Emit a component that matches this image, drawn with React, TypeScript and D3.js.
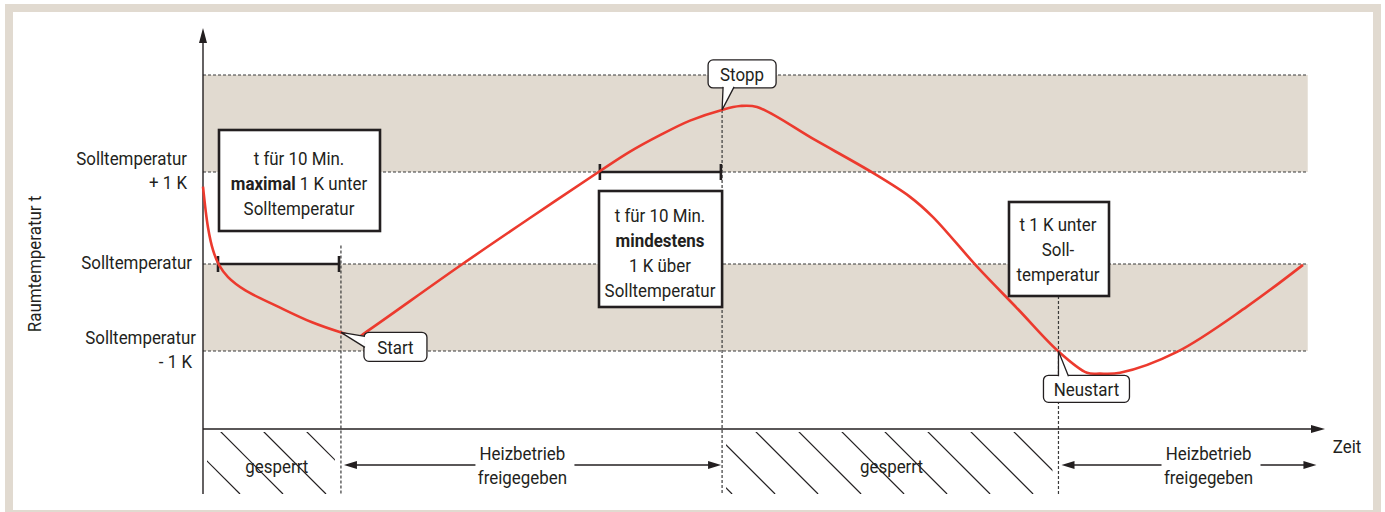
import * as d3 from "d3";
import { useRef, useEffect } from "react";

// time in minutes, deviation from Solltemperatur in K
const curveTime = [
  0, 0.41, 0.83, 1.32, 2.07, 3.47, 6.2, 9.01, 11.49, 12.81, 13.39, 21.24, 27.02,
  32.81, 35.29, 37.77, 40.25, 42.89, 44.38, 45.79, 50.58, 55.37, 58.43, 60.33,
  63.97, 67.36, 70.66, 73.06, 74.13, 75.79, 80.5, 86.28, 90.91,
];
const curveDelta = [
  0.84, 0.4, 0.15, -0.01, -0.15, -0.3, -0.49, -0.67, -0.79, -0.84, -0.79, -0.02,
  0.5, 1.01, 1.21, 1.38, 1.53, 1.64, 1.68, 1.67, 1.33, 0.99, 0.73, 0.51, -0.03,
  -0.52, -1.0, -1.25, -1.26, -1.25, -1.01, -0.49, -0.01,
];

const levelValues = [1, 0, -1];
const levelLabels = [["Solltemperatur", "+ 1 K"], ["Solltemperatur"], ["Solltemperatur", "- 1 K"]];
const bandFrom = [1, -1];
const bandTo = [2, 0];
const bandEndTime = 91.3;

const eventTimes = [11.4, 42.9, 70.7];
const eventLabels = ["Start", "Stopp", "Neustart"];

const holdFrom = [1.24, 32.8];
const holdTo = [11.24, 42.8];
const holdLevel = [0, 1];

const phaseFrom = [0, 11.4, 42.9, 70.7];
const phaseTo = [11.4, 42.9, 70.7, 92.1];
const phaseLabelTime = [6.1, 26.4, 56.9, 83.1];
const phaseLabels = [["gesperrt"], ["Heizbetrieb", "freigegeben"], ["gesperrt"], ["Heizbetrieb", "freigegeben"]];
const phaseLocked = [true, false, true, false];

const noteLines = [
  ["t für 10 Min.", "**maximal** 1 K unter", "Solltemperatur"],
  ["t für 10 Min.", "**mindestens**", "1 K über", "Solltemperatur"],
  ["t 1 K unter", "Soll-", "temperatur"],
];

const width = 1385;
const height = 512;
const ink = "#231f20";
const beige = "#e1dad0";
const red = "#ec3a2e";
const font = "Roboto, 'Liberation Sans', Arial, sans-serif";

export default function App() {
  const ref = useRef<SVGSVGElement>(null);

  useEffect(() => {
    if (!ref.current) return;
    const svg = d3.select(ref.current);
    svg.selectAll("*").remove();

    const x = d3.scaleLinear().domain([0, 100]).range([203, 1413]);
    const y = d3.scaleLinear().domain([-1, 0, 1, 2]).range([351, 264, 172, 75]);
    const axisY = 429;
    const panelBottom = 494;

    const valueAt = (t: number) => {
      const i = d3.bisectLeft(curveTime, t);
      const t0 = curveTime[i - 1];
      const t1 = curveTime[i];
      const k = (t - t0) / (t1 - t0);
      return curveDelta[i - 1] + k * (curveDelta[i] - curveDelta[i - 1]);
    };

    // condensed text: slightly narrowed like the original typeface
    const text = (
      g: d3.Selection<any, unknown, null, undefined>,
      tx: number,
      ty: number,
      str: string,
      anchor = "middle",
      size = 19,
    ) => {
      const t = g
        .append("g")
        .attr("transform", `translate(${tx},${ty}) scale(0.89,1)`)
        .append("text")
        .attr("text-anchor", anchor)
        .attr("font-family", font)
        .attr("font-size", size)
        .attr("fill", ink);
      str.split("**").forEach((part, i) => {
        if (part) t.append("tspan").attr("font-weight", i % 2 ? 700 : 400).text(part);
      });
      return t;
    };

    // frame
    svg.append("rect").attr("x", 5).attr("y", 4).attr("width", 1376).attr("height", 510).attr("fill", beige);
    svg.append("rect").attr("x", 13).attr("y", 12).attr("width", 1360).attr("height", 498).attr("fill", "#fff");

    // bands
    bandFrom.forEach((b, i) => {
      svg
        .append("rect")
        .attr("x", x(0))
        .attr("y", y(bandTo[i]))
        .attr("width", x(bandEndTime) - x(0))
        .attr("height", y(b) - y(bandTo[i]))
        .attr("fill", beige);
    });
    [2, 1, 0, -1].forEach((v) => {
      svg
        .append("line")
        .attr("x1", x(0))
        .attr("x2", x(bandEndTime))
        .attr("y1", y(v))
        .attr("y2", y(v))
        .attr("stroke", "#3a3a3a")
        .attr("stroke-width", 1.2)
        .attr("stroke-dasharray", "3,2");
    });

    // event guide lines
    const guideTop = [y(0.2), y(valueAt(eventTimes[1])), 296];
    eventTimes.forEach((t, i) => {
      svg
        .append("line")
        .attr("x1", x(t))
        .attr("x2", x(t))
        .attr("y1", guideTop[i])
        .attr("y2", panelBottom)
        .attr("stroke", "#3a3a3a")
        .attr("stroke-width", 1.2)
        .attr("stroke-dasharray", "3,2");
    });

    // phases
    const defs = svg.append("defs");
    const hatchShift = [15, 0, 31, 0];
    phaseFrom.forEach((f, i) => {
      const x0 = x(f);
      const x1 = x(phaseTo[i]);
      const cx = x(phaseLabelTime[i]);
      if (phaseLocked[i]) {
        defs
          .append("clipPath")
          .attr("id", `hatch${i}`)
          .append("rect")
          .attr("x", x0 + 4)
          .attr("y", axisY + 3)
          .attr("width", x1 - x0 - 10)
          .attr("height", panelBottom - axisY - 3);
        const hatch = svg.append("g").attr("clip-path", `url(#hatch${i})`);
        d3.range(x0 + hatchShift[i] - 86, x1, 43).forEach((xs) => {
          hatch
            .append("line")
            .attr("x1", xs)
            .attr("y1", axisY)
            .attr("x2", xs + (panelBottom - axisY))
            .attr("y2", panelBottom)
            .attr("stroke", ink)
            .attr("stroke-width", 1.2);
        });
        text(svg, cx, 473, phaseLabels[i][0]);
      } else {
        const ay = 465;
        const arrows: [number, number][] = [
          [cx - 47, x0 + 3],
          [cx + 52, x1 - 1],
        ];
        arrows.forEach(([from, to]) => {
          const dir = Math.sign(to - from);
          svg
            .append("line")
            .attr("x1", from)
            .attr("x2", to - dir * 10)
            .attr("y1", ay)
            .attr("y2", ay)
            .attr("stroke", ink)
            .attr("stroke-width", 1.3);
          svg
            .append("path")
            .attr("d", `M${to},${ay}L${to - dir * 13},${ay - 4}L${to - dir * 13},${ay + 4}Z`)
            .attr("fill", ink);
        });
        text(svg, cx, 460, phaseLabels[i][0]);
        text(svg, cx, 484, phaseLabels[i][1]);
      }
    });

    // axes
    svg.append("line").attr("x1", x(0)).attr("x2", x(0)).attr("y1", panelBottom).attr("y2", 38).attr("stroke", ink).attr("stroke-width", 1.4);
    svg.append("path").attr("d", `M${x(0)},28L${x(0) - 4},43L${x(0) + 4},43Z`).attr("fill", ink);
    svg.append("line").attr("x1", x(0)).attr("x2", 1315).attr("y1", axisY).attr("y2", axisY).attr("stroke", ink).attr("stroke-width", 1.4);
    svg.append("path").attr("d", `M1325,${axisY}L1311,${axisY - 4}L1311,${axisY + 4}Z`).attr("fill", ink);
    text(svg, 1347, 453, "Zeit");
    const rot = svg.append("g").attr("transform", "translate(41,264) rotate(-90)");
    text(rot, 0, 0, "Raumtemperatur t");

    // level labels
    const labelRight = [187, 192, 196];
    const subRight = [187, 0, 192];
    levelValues.forEach((v, i) => {
      const lines = levelLabels[i];
      const top = i === 1 ? y(v) + 5 : y(v) - 7;
      lines.forEach((l, j) => {
        text(svg, j > 0 ? subRight[i] : labelRight[i], top + j * 24, l, "end");
      });
    });

    // 10-minute windows
    holdFrom.forEach((f, i) => {
      const yy = y(holdLevel[i]);
      const g = svg.append("g").attr("stroke", ink).attr("stroke-width", 2.6);
      g.append("line").attr("x1", x(f)).attr("x2", x(holdTo[i])).attr("y1", yy).attr("y2", yy);
      [f, holdTo[i]].forEach((t) => {
        g.append("line").attr("x1", x(t)).attr("x2", x(t)).attr("y1", yy - 8).attr("y2", yy + 8);
      });
    });

    // temperature curve
    const line = d3
      .line<number>()
      .x((_, i) => x(curveTime[i]))
      .y((d) => y(d))
      .curve(d3.curveCatmullRom.alpha(0.5));
    svg
      .append("path")
      .datum(curveDelta)
      .attr("d", line)
      .attr("fill", "none")
      .attr("stroke", red)
      .attr("stroke-width", 2.6)
      .attr("stroke-linejoin", "round");

    // note boxes
    const boxes = [
      { x: 219, y: 130, w: 161, h: 101, cx: 299, base: 165 },
      { x: 599, y: 191, w: x(eventTimes[1]) - 599, h: 116, cx: 660, base: 222 },
      { x: 1009, y: 202, w: 100, h: 94, cx: 1058, base: 231 },
    ];
    boxes.forEach((b, i) => {
      svg
        .append("rect")
        .attr("x", b.x)
        .attr("y", b.y)
        .attr("width", b.w)
        .attr("height", b.h)
        .attr("fill", "#fff")
        .attr("stroke", ink)
        .attr("stroke-width", 2.6);
      noteLines[i].forEach((l, j) => text(svg, b.cx, b.base + j * 25, l));
    });

    // callouts
    const callouts = [
      { dx: 23, dy: 0, w: 63, h: 29, tail: [[24, 4], [24, 15]] },
      { dx: -14, dy: -50, w: 68, h: 28, tail: [[1, -23], [12, -23]] },
      { dx: -15, dy: 24, w: 86, h: 27, tail: [[0, 25], [10, 25]] },
    ];
    eventTimes.forEach((t, i) => {
      const c = callouts[i];
      const tx = x(t);
      const ty = y(valueAt(t));
      svg
        .append("rect")
        .attr("x", tx + c.dx)
        .attr("y", ty + c.dy)
        .attr("width", c.w)
        .attr("height", c.h)
        .attr("rx", 5)
        .attr("fill", "#fff")
        .attr("stroke", ink)
        .attr("stroke-width", 1.3);
      svg
        .append("path")
        .attr("d", `M${tx + c.tail[0][0]},${ty + c.tail[0][1]}L${tx},${ty}L${tx + c.tail[1][0]},${ty + c.tail[1][1]}`)
        .attr("fill", "#fff")
        .attr("stroke", ink)
        .attr("stroke-width", 1.3);
      text(svg, tx + c.dx + c.w / 2, ty + c.dy + c.h / 2 + 7, eventLabels[i], "middle", 19);
    });
  }, []);

  return <svg ref={ref} width={width} height={height} style={{ position: "absolute", left: 0, top: 0 }} />;
}
